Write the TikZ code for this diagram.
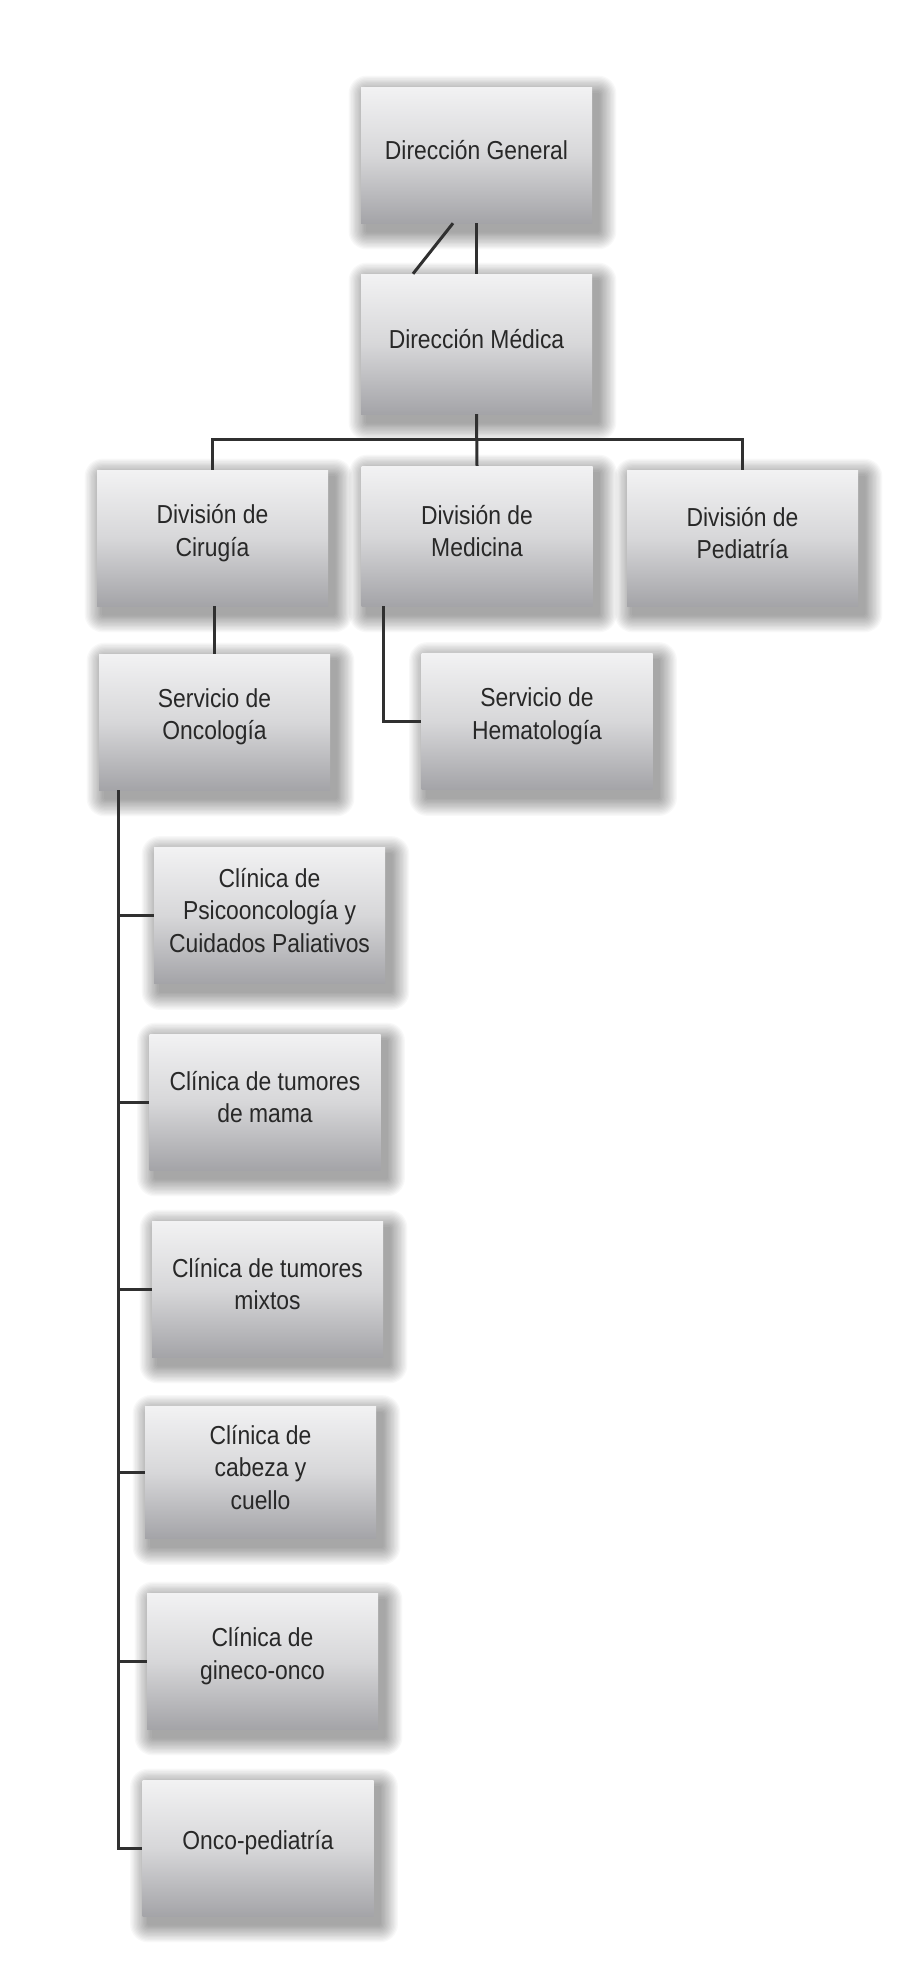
\documentclass[tikz,border=0pt]{standalone}
\usepackage{fontspec}
\setmainfont{Liberation Sans}[FakeStretch=0.88]
\usetikzlibrary{calc,backgrounds}
\definecolor{linec}{RGB}{48,48,48}
\definecolor{txtc}{RGB}{40,40,40}
\definecolor{boxtop}{RGB}{242,242,243}
\definecolor{boxmid}{RGB}{215,215,217}
\definecolor{boxbot}{RGB}{164,164,168}
\begin{document}
\begin{tikzpicture}[x=1pt,y=-1pt,
  orgbox/.style={rectangle, minimum width=231pt, minimum height=136pt, inner sep=0pt,
    top color=boxtop, bottom color=boxbot, middle color=boxmid},
  txt/.style={align=center, text=txtc, inner sep=0pt, yshift=5pt, font=\fontsize{26}{32.5}\selectfont},
  shadowstep/.style={fill=black, fill opacity=0.026},
  link/.style={draw=linec, line width=3pt, line join=miter}]
\useasboundingbox (0,0) rectangle (907,1976);

\node[orgbox, label={[txt]center:Dirección General}] (DG) at (476.5,155) {};
\node[orgbox, minimum height=140pt, label={[txt]center:Dirección Médica}] (DM) at (476.5,344) {};
\node[orgbox, label={[txt]center:{División de\\Cirugía}}] (Cir) at (212.5,538) {};
\node[orgbox, minimum height=140pt, label={[txt]center:{División de\\Medicina}}] (Med) at (477,536) {};
\node[orgbox, label={[txt]center:{División de\\Pediatría}}] (Ped) at (742.5,538) {};
\node[orgbox, label={[txt]center:{Servicio de\\Oncología}}] (Onc) at (214.5,722) {};
\node[orgbox, label={[txt]center:{Servicio de\\Hematología}}] (Hem) at (537,721.5) {};
\node[orgbox, label={[txt]center:{Clínica de\\Psicooncología y\\Cuidados Paliativos}}] (Psi) at (269.5,915.5) {};
\node[orgbox, label={[txt]center:{Clínica de tumores\\de mama}}] (Mam) at (265,1102) {};
\node[orgbox, label={[txt]center:{Clínica de tumores\\mixtos}}] (Mix) at (267.5,1289) {};
\node[orgbox, minimum height=132pt, label={[txt]center:{Clínica de\\cabeza y\\cuello}}] (Cab) at (260.5,1472.5) {};
\node[orgbox, label={[txt]center:{Clínica de\\gineco-onco}}] (Gin) at (262.5,1661) {};
\node[orgbox, label={[txt]center:Onco-pediatría}] (OP) at (258,1848) {};

\begin{pgfonlayer}{background}
\fill[white] (0,0) rectangle (907,1976);
\foreach \n in {DG,DM,Cir,Med,Ped,Onc,Hem,Psi,Mam,Mix,Cab,Gin,OP}{
  \foreach \k in {1,...,14}{
    \fill[shadowstep, rounded corners=\k*1.3pt]
      ($(\n.north west)+(6-\k*1.3,7-\k*1.3)$) rectangle ($(\n.south east)+(6+\k*1.3,8+\k*1.3)$);
  }
}
\end{pgfonlayer}

\coordinate (bus) at (476,439);
\coordinate (trunk) at ($(Onc.south west)+(20,0)$);
\coordinate (medleg) at ($(Med.south west)+(22,0)$);
\coordinate (cirleg) at ($(Cir.south)+(2,0)$);

\draw[link] (DG.south) -- (DM.north);
\draw[link] ($(DG.south)+(-23.5,0)$) -- ($(DM.north)+(-63.5,0)$);
\draw[link] (DM.south) -- (Med.north);
\draw[link] (Cir.north) |- (bus) -| (Ped.north);
\draw[link] (cirleg) -- (cirleg |- Onc.north);
\draw[link] (medleg) |- (Hem.west);
\draw[link] (trunk) |- (OP.west);
\draw[link] (trunk |- Psi.west) -- (Psi.west);
\draw[link] (trunk |- Mam.west) -- (Mam.west);
\draw[link] (trunk |- Mix.west) -- (Mix.west);
\draw[link] (trunk |- Cab.west) -- (Cab.west);
\draw[link] (trunk |- Gin.west) -- (Gin.west);
\end{tikzpicture}
\end{document}
